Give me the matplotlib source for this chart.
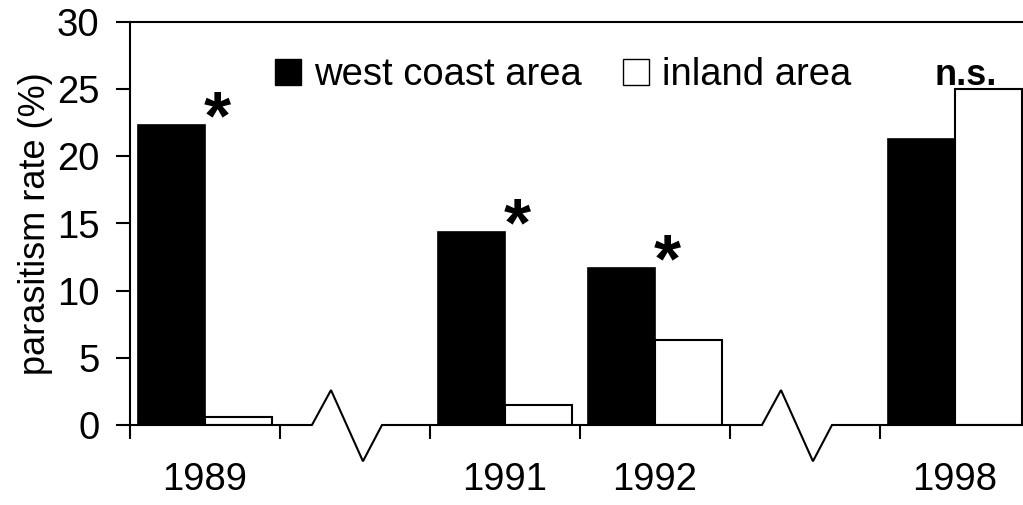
import matplotlib
matplotlib.use("Agg")
import matplotlib.pyplot as plt
from matplotlib.patches import Patch

plt.rcParams['font.family'] = ['Liberation Sans', 'DejaVu Sans']

# data
years = ['1989', '1991', '1992', '1998']
slots = [0, 2, 3, 5]          # category slots, 1 and 4 are axis breaks
west = [22.3, 14.4, 11.7, 21.3]
inland = [0.6, 1.5, 6.3, 25.0]
signif = ['*', '*', '*', 'n.s.']

fs = 27.5
fig = plt.figure(figsize=(10.23, 5.05), dpi=100)
ax = fig.add_axes([130 / 1023, 80 / 505, 893 / 1023, 403 / 505])

bw = 0.445
centers = [s + 0.5 for s in slots]
ax.bar([c - bw / 2 for c in centers], west, bw, color='black', edgecolor='black', linewidth=1.2)
ax.bar([c + bw / 2 for c in centers], inland, bw, color='white', edgecolor='black', linewidth=1.5)

# significance marks
for c, w, i, s in zip(centers, west, inland, signif):
    if s == '*':
        ax.text(c + 0.08, w - 1.0, s, ha='center', va='baseline', fontsize=50, fontweight='bold')
    else:
        ax.text(c + 0.07, max(w, i) + 0.3, s, ha='center', va='baseline', fontsize=26, fontweight='bold')

ax.set_xlim(0, 893 / 150)
ax.set_ylim(0, 30)
ax.set_yticks(range(0, 31, 5))
ax.set_xticks(range(0, 6))
ax.set_xticklabels([])
ax.set_xticks(centers, minor=True)
ax.set_xticklabels(years, minor=True)
ax.tick_params(axis='x', which='minor', length=0, pad=27, labelsize=fs)
ax.tick_params(axis='x', which='major', direction='out', length=10, width=1.5)
ax.tick_params(axis='y', direction='out', length=10, width=1.5, pad=12, labelsize=fs)
ax.set_ylabel('parasitism rate (%)', fontsize=26, labelpad=3)

ax.spines['right'].set_visible(False)
ax.spines['bottom'].set_visible(False)
for sp in ['left', 'top']:
    ax.spines[sp].set_linewidth(1.5)

# x axis line with zigzag breaks in slots 1 and 4
xs, ys = [0], [0]
for b in [1, 4]:
    xs += [b + 0.213, b + 0.34, b + 0.553, b + 0.68]
    ys += [0, 2.6, -2.7, 0]
xs.append(893 / 150)
ys.append(0)
ax.plot(xs, ys, color='black', linewidth=1.5, clip_on=False, solid_joinstyle='miter')

handles = [Patch(facecolor='black', edgecolor='black', label='west coast area'),
           Patch(facecolor='white', edgecolor='black', label='inland area')]
ax.legend(handles=handles, loc='center', bbox_to_anchor=(0.485, 0.868), ncol=2, frameon=False,
          fontsize=fs, handlelength=0.68, handleheight=0.68, handletextpad=0.34, columnspacing=1.1)

fig.savefig('out.png', dpi=100)
